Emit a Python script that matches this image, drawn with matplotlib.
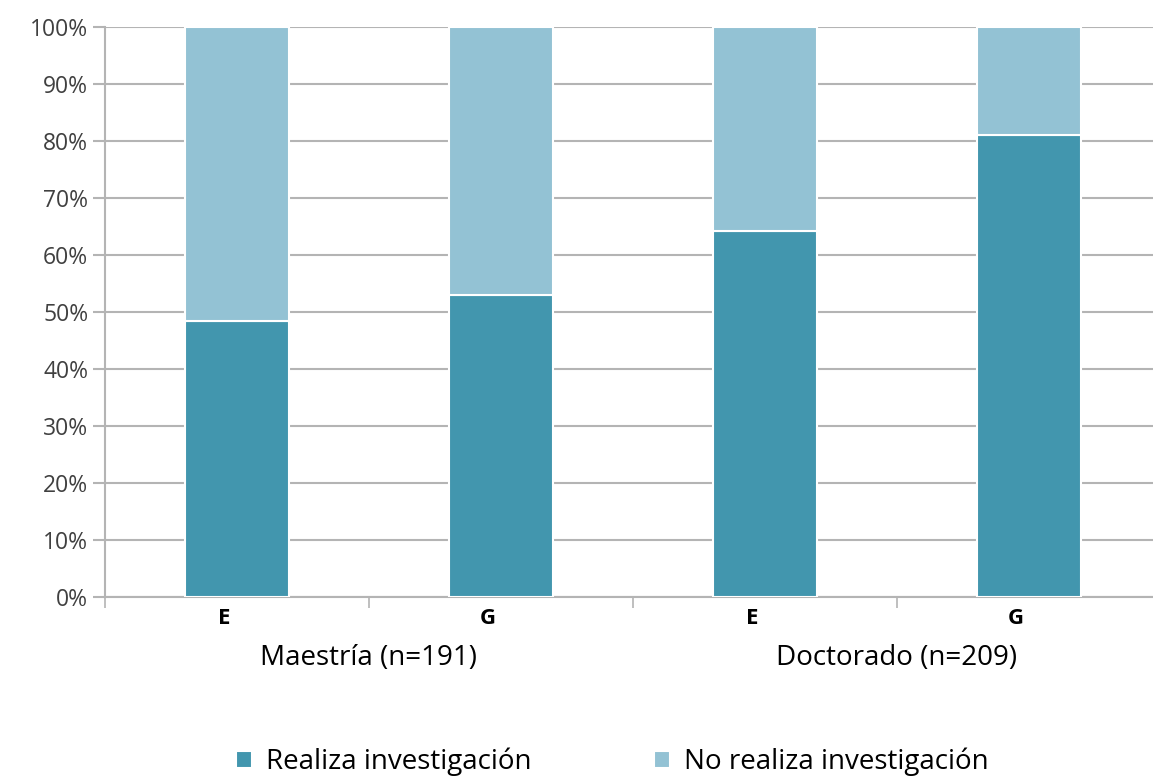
import matplotlib
matplotlib.use('Agg')
import matplotlib.pyplot as plt
import numpy as np

groups = ['Maestría (n=191)', 'Doctorado (n=209)']
bar_labels = ['E', 'G', 'E', 'G']
realiza = [48.5, 53.0, 64.2, 81.0]
no_realiza = [100 - v for v in realiza]
series_names = ['Realiza investigación', 'No realiza investigación']

dark = '#4296ae'
light = '#93c2d4'
grid_col = '#b4b4b4'

plt.rcParams['font.family'] = ['Open Sans', 'DejaVu Sans']

fig = plt.figure(figsize=(11.53, 7.84), dpi=100)
ax = fig.add_axes([105 / 1153, 187 / 784, 1056 / 1153, 570 / 784])

x = np.arange(len(realiza))
w = 0.394
ax.bar(x, realiza, w, color=dark, edgecolor='white', linewidth=1.5,
       label=series_names[0], zorder=3)
ax.bar(x, no_realiza, w, bottom=realiza, color=light, edgecolor='white',
       linewidth=1.5, label=series_names[1], zorder=3)

ax.set_xlim(-0.5, 3.5)
ax.set_ylim(0, 100)
ax.set_yticks(np.arange(0, 101, 10))
ax.set_yticklabels(['{}%'.format(v) for v in range(0, 101, 10)],
                   fontsize=16.5, color='#404040')
ax.yaxis.grid(True, color=grid_col, linewidth=1.5, zorder=0)
ax.tick_params(axis='y', length=9, width=1.5, color=grid_col, pad=3)

ax.set_xticks(np.arange(-0.5, 3.6, 1))
ax.set_xticklabels([])
ax.tick_params(axis='x', length=8, width=1.2, color=grid_col)

for i, lab in enumerate(bar_labels):
    ax.text(x[i] - 0.05, -2.0, lab, ha='center', va='top', fontsize=16,
            fontweight='bold', color='black')
for j, g in enumerate(groups):
    ax.text(2 * j + 0.5, -8.3, g, ha='center', va='top', fontsize=20,
            color='black')

for s in ['top', 'right']:
    ax.spines[s].set_visible(False)
for s in ['left', 'bottom']:
    ax.spines[s].set_color(grid_col)
    ax.spines[s].set_linewidth(1.5)

fig.legend(loc='lower center', bbox_to_anchor=(0.531, -0.022), ncol=2,
           frameon=False, fontsize=20, handlelength=0.6, handleheight=0.6,
           columnspacing=4.4, handletextpad=0.5)

fig.savefig('out.png', dpi=100)
